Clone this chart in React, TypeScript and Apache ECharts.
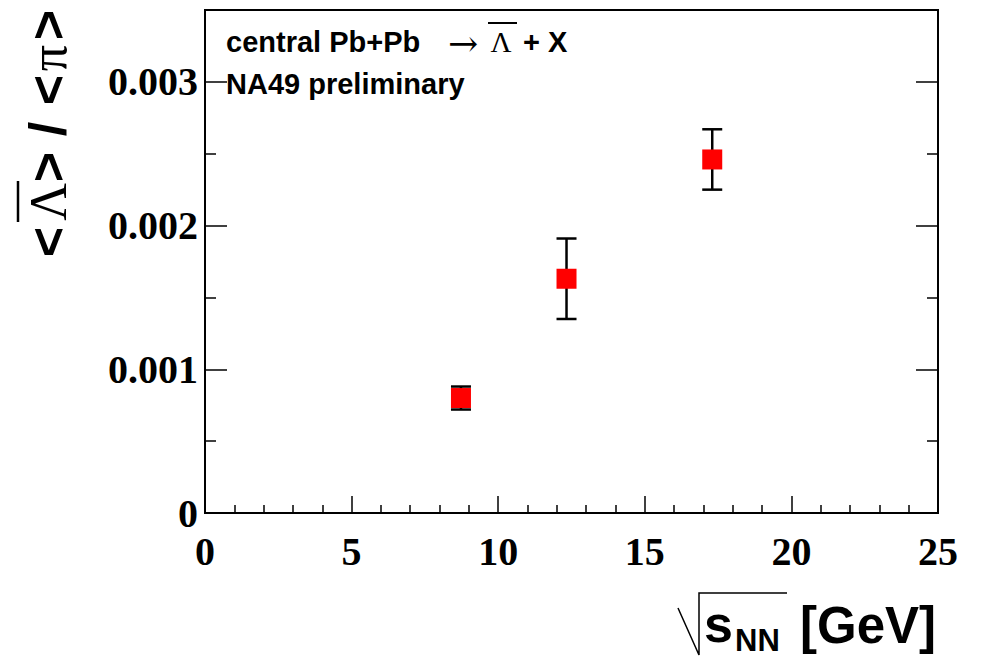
import React, { useEffect, useRef } from "react";
import * as echarts from "echarts";

// sqrt(s_NN) [GeV]
const xValues: number[] = [8.73, 12.33, 17.3];
// <anti-Lambda>/<pi>
const yValues: number[] = [0.0008, 0.00163, 0.00246];
const yErrors: number[] = [0.00008, 0.00028, 0.00021];

const xMin = 0, xMax = 25, xStep = 5;
const yMin = 0, yMax = 0.0035, yStep = 0.001;

const SERIF = "'Liberation Serif', 'Times New Roman', serif";
const SANS = "'Liberation Sans', Arial, sans-serif";

export default function App() {
  const ref = useRef<HTMLDivElement>(null);
  useEffect(() => {
    if (!ref.current) return;
    const chart = echarts.init(ref.current, null, { renderer: "svg" });

    const scatterData = xValues.map((x, i) => [x, yValues[i]]);
    const errData = xValues.map((x, i) => [x, yValues[i] - yErrors[i], yValues[i] + yErrors[i]]);

    const yLabelFmt = (v: number) => {
      const k = v / yStep;
      if (Math.abs(k - Math.round(k)) > 1e-6) return "";
      return v === 0 ? "0" : v.toFixed(3);
    };

    const yAxisCommon = {
      type: "value",
      min: yMin,
      max: yMax,
      interval: yStep,
      splitLine: { show: false },
      axisLine: { show: true, lineStyle: { color: "#000", width: 2 } },
      axisTick: { show: true, inside: true, length: 22, lineStyle: { color: "#000", width: 1.5 } },
      minorTick: { show: true, splitNumber: 2, length: 11, lineStyle: { color: "#000", width: 1.5 } },
    };

    const rotText = (text: string, y: number, font: string, weight: string) => ({
      type: "text",
      x: 48,
      y,
      rotation: Math.PI / 2,
      style: {
        text,
        font: `${weight} 52px ${font}`,
        fill: "#000",
        align: "center",
        verticalAlign: "middle",
      },
    });

    const option: any = {
      animation: false,
      backgroundColor: "#fff",
      grid: {
        left: 205,
        top: 10,
        width: 733,
        height: 503,
        show: true,
        borderColor: "#000",
        borderWidth: 2,
        backgroundColor: "transparent",
      },
      xAxis: {
        type: "value",
        min: xMin,
        max: xMax,
        interval: xStep,
        splitLine: { show: false },
        axisLine: { show: true, onZero: false, lineStyle: { color: "#000", width: 2 } },
        axisTick: { show: true, inside: true, length: 17, lineStyle: { color: "#000", width: 1.5 } },
        minorTick: { show: true, splitNumber: 5, length: 8, lineStyle: { color: "#000", width: 1.5 } },
        axisLabel: {
          margin: 18,
          fontFamily: SERIF,
          fontWeight: "bold",
          fontSize: 40,
          color: "#000",
        },
      },
      yAxis: [
        {
          ...yAxisCommon,
          position: "left",
          axisLabel: {
            margin: 7,
            fontFamily: SERIF,
            fontWeight: "bold",
            fontSize: 40,
            color: "#000",
            formatter: yLabelFmt,
          },
        },
        {
          ...yAxisCommon,
          position: "right",
          axisLabel: { show: false },
        },
      ],
      series: [
        {
          type: "custom",
          data: errData,
          z: 2,
          renderItem: (params: any, api: any) => {
            const x = api.value(0);
            const lo = api.coord([x, api.value(1)]);
            const hi = api.coord([x, api.value(2)]);
            const hw = 10;
            const st = { stroke: "#000", lineWidth: 2.5 };
            return {
              type: "group",
              children: [
                { type: "line", shape: { x1: lo[0], y1: lo[1], x2: hi[0], y2: hi[1] }, style: st },
                { type: "line", shape: { x1: lo[0] - hw, y1: lo[1], x2: lo[0] + hw, y2: lo[1] }, style: st },
                { type: "line", shape: { x1: hi[0] - hw, y1: hi[1], x2: hi[0] + hw, y2: hi[1] }, style: st },
              ],
            };
          },
        },
        {
          type: "scatter",
          data: scatterData,
          symbol: "rect",
          symbolSize: 20,
          z: 3,
          itemStyle: { color: "#ff0000", opacity: 1 },
        },
      ],
      graphic: [
        // y-axis title: <Lambda-bar> / <pi>
        rotText("<", 242, SANS, "bold"),
        rotText("Λ", 202, SERIF, "normal"),
        rotText(">", 167, SANS, "bold"),
        rotText("/", 129, SANS, "bold"),
        rotText("<", 90, SANS, "bold"),
        rotText("π", 58, SERIF, "normal"),
        rotText(">", 25, SANS, "bold"),
        { type: "line", shape: { x1: 18, y1: 181, x2: 18, y2: 222 }, style: { stroke: "#000", lineWidth: 2.5 } },

        // in-plot text
        {
          type: "text",
          x: 226,
          y: 42,
          style: { text: "central Pb+Pb", font: `bold 29px ${SANS}`, fill: "#000", align: "left", verticalAlign: "middle" },
        },
        {
          type: "text",
          x: 463,
          y: 43,
          style: { text: "→", font: `normal 36px 'DejaVu Serif', serif`, fill: "#000", align: "center", verticalAlign: "middle" },
        },
        {
          type: "text",
          x: 501,
          y: 42,
          style: { text: "Λ", font: `normal 29px ${SERIF}`, fill: "#000", align: "center", verticalAlign: "middle" },
        },
        { type: "line", shape: { x1: 488, y1: 23, x2: 517, y2: 23 }, style: { stroke: "#000", lineWidth: 2 } },
        {
          type: "text",
          x: 523,
          y: 42,
          style: { text: "+ X", font: `bold 29px ${SANS}`, fill: "#000", align: "left", verticalAlign: "middle" },
        },
        {
          type: "text",
          x: 226,
          y: 84,
          style: { text: "NA49 preliminary", font: `bold 29px ${SANS}`, fill: "#000", align: "left", verticalAlign: "middle" },
        },

        // x-axis title: sqrt(s_NN) [GeV]
        {
          type: "polyline",
          shape: { points: [[678, 608], [699, 655], [699, 593], [787, 593]] },
          style: { stroke: "#000", lineWidth: 1.5, fill: null },
        },
        {
          type: "text",
          x: 704,
          y: 624,
          style: { text: "s", font: `bold 52px ${SANS}`, fill: "#000", align: "left", verticalAlign: "middle" },
        },
        {
          type: "text",
          x: 735,
          y: 640,
          style: { text: "NN", font: `bold 31px ${SANS}`, fill: "#000", align: "left", verticalAlign: "middle" },
        },
        {
          type: "text",
          x: 800,
          y: 625,
          style: { text: "[GeV]", font: `bold 51px ${SANS}`, fill: "#000", align: "left", verticalAlign: "middle" },
        },
      ],
    };

    chart.setOption(option);
    return () => chart.dispose();
  }, []);

  return (
    <div
      ref={ref}
      style={{ position: "fixed", left: 0, top: 0, width: 981, height: 658, background: "#fff" }}
    />
  );
}
